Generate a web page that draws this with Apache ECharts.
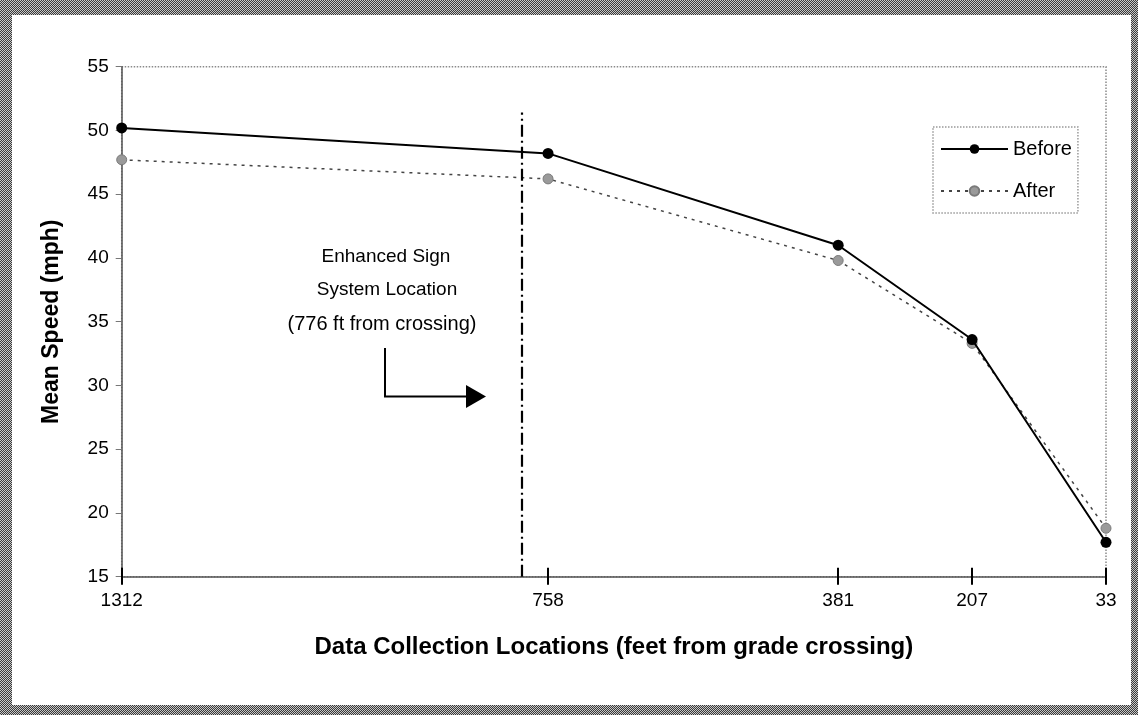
<!DOCTYPE html>
<html>
<head>
<meta charset="utf-8">
<script src="https://cdn.jsdelivr.net/npm/echarts@6/dist/echarts.min.js"></script>
<style>
  html, body { margin: 0; padding: 0; background: #fff; }
  #frame { position: absolute; left: 0; top: 0; width: 1138px; height: 715px;
    background: repeating-conic-gradient(#3a3a3a 0 25%, #c8c8c8 0 50%) 0 0 / 2px 2px; }
  #inner { position: absolute; left: 12px; top: 15px; width: 1119px; height: 690px; background: #fff; }
  #chart { position: absolute; left: 0; top: 0; width: 1138px; height: 715px; }
</style>
</head>
<body>
<div id="frame"></div>
<div id="inner"></div>
<div id="chart"></div>
<script>
// Data (feet from grade crossing, mean speed mph)
const locations = [1312, 758, 381, 207, 33];
const beforeSpeed = [50.2, 48.2, 41.0, 33.6, 17.7];
const afterSpeed = [47.7, 46.2, 39.8, 33.3, 18.8];
const xTickLabels = [1312, 758, 381, 207, 33];
const signLinePos = 792; // drawn position of the dash-dot sign-location line
const signLineTop = 51.4;

const font = 'Liberation Sans, Arial, Helvetica, sans-serif';

const chart = echarts.init(document.getElementById('chart'), null, { renderer: 'canvas' });

const pair = (xs, ys) => xs.map((x, i) => [x, ys[i]]);

const option = {
  backgroundColor: 'transparent',
  animation: false,
  textStyle: { fontFamily: font, color: '#000' },
  grid: { left: 121.7, right: 32, top: 66.7, bottom: 138.3, show: true,
    borderColor: '#8a8a8a', borderWidth: 1.5, borderType: 'dotted', backgroundColor: 'transparent' },
  legend: {
    orient: 'vertical', left: 933, top: 127,
    padding: [12, 6, 12, 7], itemGap: 22, itemWidth: 67, itemHeight: 12,
    borderColor: '#999', borderWidth: 1.5, borderType: 'dotted',
    textStyle: { fontFamily: font, fontSize: 20, color: '#000' },
    data: ['Before', 'After']
  },
  xAxis: [{
    type: 'value', inverse: true, min: 33, max: 1312,
    name: 'Data Collection Locations (feet from grade crossing)',
    nameLocation: 'middle', nameGap: 59,
    nameTextStyle: { fontFamily: font, fontSize: 24, fontWeight: 'bold', color: '#000' },
    splitLine: { show: false },
    axisLine: { show: true, lineStyle: { color: '#555', width: 1.5 } },
    axisTick: { show: true, customValues: xTickLabels, length: 8, lineStyle: { color: '#000', width: 2 } },
    axisLabel: { customValues: xTickLabels, formatter: v => String(v), fontFamily: font, fontSize: 19, color: '#000', margin: 15 }
  }, {
    type: 'value', inverse: true, min: 33, max: 1312, position: 'bottom',
    splitLine: { show: false },
    axisLine: { show: false },
    axisTick: { show: true, inside: true, customValues: xTickLabels, length: 9, lineStyle: { color: '#000', width: 2 } },
    axisLabel: { show: false }
  }],
  yAxis: {
    type: 'value', min: 15, max: 55, interval: 5,
    name: 'Mean Speed (mph)', nameLocation: 'middle', nameGap: 59, nameRotate: 90,
    nameTextStyle: { fontFamily: font, fontSize: 23, fontWeight: 'bold', color: '#000' },
    splitLine: { show: false },
    axisLine: { show: true, lineStyle: { color: '#555', width: 1.5 } },
    axisTick: { show: true, length: 6, lineStyle: { color: '#777', width: 1 } },
    axisLabel: { fontFamily: font, fontSize: 19, color: '#000', margin: 13 }
  },
  series: [{
    name: 'Before', type: 'line', xAxisIndex: 0,
    data: pair(locations, beforeSpeed),
    symbol: 'circle', symbolSize: 11,
    lineStyle: { color: '#000', width: 2 },
    itemStyle: { color: '#000' },
    z: 4,
    markLine: {
      silent: true, symbol: 'none', label: { show: false },
      lineStyle: { color: '#000', width: 2.2, type: [12, 4, 2, 4] },
      data: [[{ coord: [signLinePos, 15] }, { coord: [signLinePos, signLineTop] }]]
    }
  }, {
    name: 'After', type: 'line', xAxisIndex: 0,
    data: pair(locations, afterSpeed),
    symbol: 'circle', symbolSize: 10,
    lineStyle: { color: '#444', width: 1.5, type: [3, 5] },
    itemStyle: { color: '#9a9a9a', borderColor: '#7a7a7a', borderWidth: 1 },
    z: 3
  }],
  graphic: [
    { type: 'text', x: 386, y: 257, style: { text: 'Enhanced Sign', font: '19px ' + font, fill: '#000', align: 'center', verticalAlign: 'middle' } },
    { type: 'text', x: 387, y: 290, style: { text: 'System Location', font: '19px ' + font, fill: '#000', align: 'center', verticalAlign: 'middle' } },
    { type: 'text', x: 382, y: 324, style: { text: '(776 ft from crossing)', font: '20px ' + font, fill: '#000', align: 'center', verticalAlign: 'middle' } },
    { type: 'polyline', shape: { points: [[385, 348], [385, 396.5], [469, 396.5]] }, style: { stroke: '#000', lineWidth: 2, fill: null } },
    { type: 'polygon', shape: { points: [[466, 385], [486, 396.5], [466, 408]] }, style: { fill: '#000' } }
  ]
};

chart.setOption(option);
</script>
</body>
</html>
